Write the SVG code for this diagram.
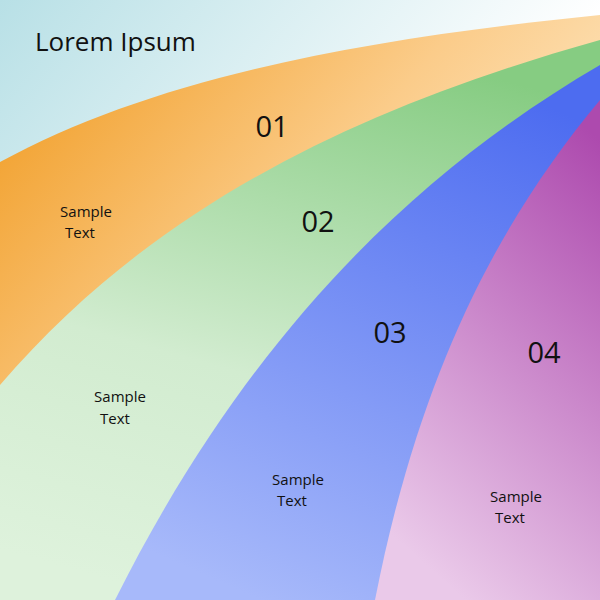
<svg xmlns="http://www.w3.org/2000/svg" width="600" height="600" viewBox="0 0 600 600">
<defs>
<linearGradient id="bg" x1="0" y1="0" x2="0.6" y2="0.5"><stop offset="0" stop-color="#b8e0e6"/><stop offset="1" stop-color="#ffffff"/></linearGradient>
<linearGradient id="or" x1="0" y1="0.2" x2="0.6" y2="0.7"><stop offset="0" stop-color="#f2a332"/><stop offset="0.6" stop-color="#fbcc8a"/><stop offset="1" stop-color="#fde2b8"/></linearGradient>
<linearGradient id="gr" x1="0.6" y1="0" x2="0.3" y2="1"><stop offset="0" stop-color="#86cc82"/><stop offset="0.6" stop-color="#d2ecd0"/><stop offset="1" stop-color="#def2dc"/></linearGradient>
<linearGradient id="bl" x1="0.7" y1="0" x2="0.3" y2="1"><stop offset="0" stop-color="#4d6cf0"/><stop offset="1" stop-color="#a7b9fa"/></linearGradient>
<linearGradient id="pu" x1="0.8" y1="0" x2="0.4" y2="1"><stop offset="0" stop-color="#ad4aae"/><stop offset="1" stop-color="#eac9e9"/></linearGradient>
<style>.t{font-family:"Open Sans","Liberation Sans",sans-serif;fill:#111}.s{font-size:15px;text-anchor:middle}.n{font-size:29px;text-anchor:middle}</style>
</defs>
<rect width="600" height="600" fill="url(#bg)"/>
<path d="M0,162 C150,80 350,40 600,15 L600,600 L0,600 Z" fill="url(#or)"/>
<path d="M0,385 C150,210 350,110 600,40 L600,600 L0,600 Z" fill="url(#gr)"/>
<path d="M115,600 C250,330 420,170 600,65 L600,600 Z" fill="url(#bl)"/>
<path d="M375,600 C420,370 500,220 600,100 L600,600 Z" fill="url(#pu)"/>
<text class="t" x="35" y="51" font-size="26">Lorem Ipsum</text>
<text class="t n" x="272" y="137">01</text>
<text class="t n" x="318" y="232">02</text>
<text class="t n" x="390" y="343">03</text>
<text class="t n" x="544" y="363">04</text>
<text class="t s"><tspan x="86" y="217">Sample</tspan><tspan x="80" y="238">Text</tspan></text>
<text class="t s"><tspan x="120" y="402">Sample</tspan><tspan x="115" y="424">Text</tspan></text>
<text class="t s"><tspan x="298" y="485">Sample</tspan><tspan x="292" y="506">Text</tspan></text>
<text class="t s"><tspan x="516" y="502">Sample</tspan><tspan x="510" y="523">Text</tspan></text>
</svg>
